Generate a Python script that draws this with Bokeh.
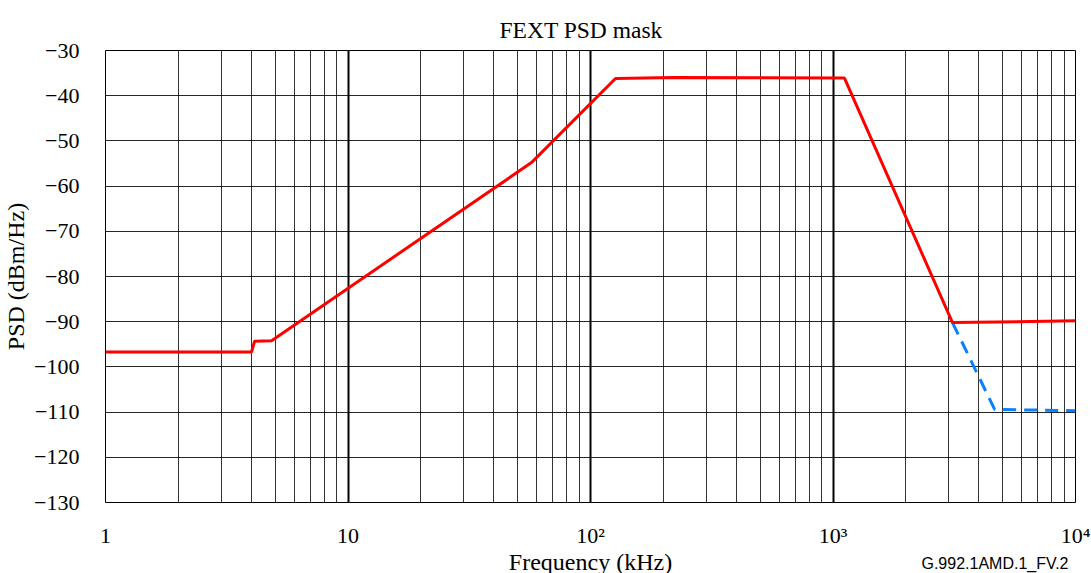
import math
from bokeh.plotting import figure
from bokeh.models import Range1d, FixedTicker, Title, ColumnDataSource
from bokeh.embed import file_html
from bokeh.resources import INLINE

# ---- data ----
red_freq = [1, 4.0, 4.12, 4.84, 57.1, 126.8, 220, 1115, 3110, 10000]
red_psd = [-96.7, -96.7, -94.3, -94.2, -54.8, -36.2, -36.0, -36.1, -90.2, -89.8]
blue_freq = [3110, 4640, 10000]
blue_psd = [-90.2, -109.4, -109.7]

x_ticks = [1, 10, 100, 1000, 10000]
x_tick_labels = ["1", "10", "10\u00b2", "10\u00b3", "10\u2074"]
y_ticks = [-30, -40, -50, -60, -70, -80, -90, -100, -110, -120, -130]
y_tick_labels = ["\u2212" + str(abs(v)) for v in y_ticks]

title_text = "FEXT PSD mask"
x_label = "Frequency (kHz)"
y_label = "PSD (dBm/Hz)"
note_text = "G.992.1AMD.1_FV.2"

SERIF = "Liberation Serif"

p = figure(x_axis_type="log", x_range=Range1d(1, 1e4), y_range=Range1d(-130, -30),
           frame_width=970, frame_height=452, min_border_left=104, min_border_top=50,
           min_border_right=17, min_border_bottom=71,
           output_backend="svg", toolbar_location=None)
p.background_fill_color = "white"
p.border_fill_color = "white"
p.outline_line_color = "black"
p.outline_line_width = 1

p.title.text = title_text
p.title.align = "left"
p.title.offset = 394
p.title.standoff = 16
p.title.text_font = SERIF
p.title.text_font_size = "23.5px"
p.title.text_font_style = "normal"
p.title.text_color = "black"

minor = [m * 10 ** k for k in range(4) for m in range(2, 10)]
p.xaxis.ticker = FixedTicker(ticks=x_ticks, minor_ticks=minor)
p.xaxis.major_label_overrides = {t: l for t, l in zip(x_ticks, x_tick_labels)}
p.yaxis.ticker = FixedTicker(ticks=y_ticks)
p.yaxis.major_label_overrides = {t: l for t, l in zip(y_ticks, y_tick_labels)}

for ax in (p.xaxis, p.yaxis):
    ax.axis_line_color = None
    ax.major_tick_line_color = None
    ax.minor_tick_line_color = None
    ax.major_label_text_font = SERIF
    ax.major_label_text_font_size = "22px"
    ax.major_label_text_color = "black"
    ax.axis_label_text_font = SERIF
    ax.axis_label_text_font_size = "24px"
    ax.axis_label_text_font_style = "normal"
    ax.axis_label_text_color = "black"
p.xaxis.major_label_standoff = 14
p.xaxis.axis_label = x_label
p.xaxis.axis_label_standoff = -2
p.yaxis.major_label_standoff = 20
p.yaxis.axis_label = y_label
p.yaxis.axis_label_standoff = 2

note = Title(text=note_text, align="right", vertical_align="top", standoff=-46,
             offset=7, text_font="Liberation Sans", text_font_size="16px",
             text_font_style="normal", text_color="black")
p.add_layout(note, "below")

p.xgrid.grid_line_color = "black"
p.xgrid.grid_line_width = 2
p.xgrid.minor_grid_line_color = "black"
p.xgrid.minor_grid_line_alpha = 0.8
p.xgrid.minor_grid_line_width = 1
p.ygrid.grid_line_color = "black"
p.ygrid.grid_line_alpha = 0.85
p.ygrid.grid_line_width = 1

p.line(x="f", y="v", source=ColumnDataSource(dict(f=blue_freq, v=blue_psd)),
       line_color="#0a80ff", line_width=3, line_dash="13 8")
p.line(x="f", y="v", source=ColumnDataSource(dict(f=red_freq, v=red_psd)),
       line_color="#ff0000", line_width=3)

open("out.html", "w").write(file_html(p, INLINE))
